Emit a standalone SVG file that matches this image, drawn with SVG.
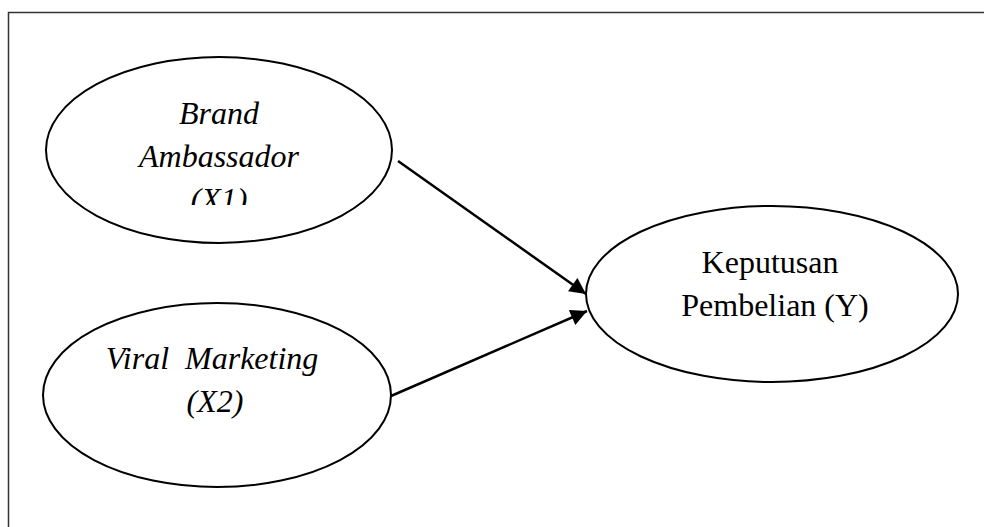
<svg xmlns="http://www.w3.org/2000/svg" width="984" height="527" viewBox="0 0 984 527">
<style>
.node{fill:#fff;stroke:#000;stroke-width:2}
.t{font-family:"Liberation Serif","Times New Roman",serif;font-size:32px;fill:#000;text-anchor:middle}
.i{font-style:italic}
.edge{stroke:#000;stroke-width:2.5;fill:none}
.frame{fill:none;stroke:#333;stroke-width:1.5}
</style>
<defs>
<marker id="ah" viewBox="0 0 10 10" refX="10" refY="5" markerWidth="7" markerHeight="6.5" markerUnits="strokeWidth" orient="auto">
<path d="M0,0 L10,5 L0,10 z" fill="#000"/>
</marker>
<clipPath id="c1"><rect x="40" y="50" width="360" height="155"/></clipPath>
</defs>
<path class="frame" d="M8.5,527 V12.5 H984"/>
<g id="node-x1">
<ellipse class="node" cx="219" cy="150" rx="173" ry="93"/>
<g clip-path="url(#c1)">
<text class="t i" x="219" y="124">Brand</text>
<text class="t i" x="219" y="167">Ambassador</text>
<text class="t i" x="219" y="210">(X1)</text>
</g>
</g>
<g id="node-x2">
<ellipse class="node" cx="217" cy="395" rx="174" ry="92"/>
<text class="t i" x="212" y="369" xml:space="preserve">Viral  Marketing</text>
<text class="t i" x="215" y="412">(X2)</text>
</g>
<g id="node-y">
<ellipse class="node" cx="772" cy="294" rx="186" ry="88"/>
<text class="t" x="770" y="273">Keputusan</text>
<text class="t" x="775" y="316">Pembelian (Y)</text>
</g>
<g id="connectors">
<line class="edge" x1="398" y1="161" x2="586" y2="294" marker-end="url(#ah)"/>
<line class="edge" x1="391" y1="396" x2="587" y2="311" marker-end="url(#ah)"/>
</g>
</svg>
